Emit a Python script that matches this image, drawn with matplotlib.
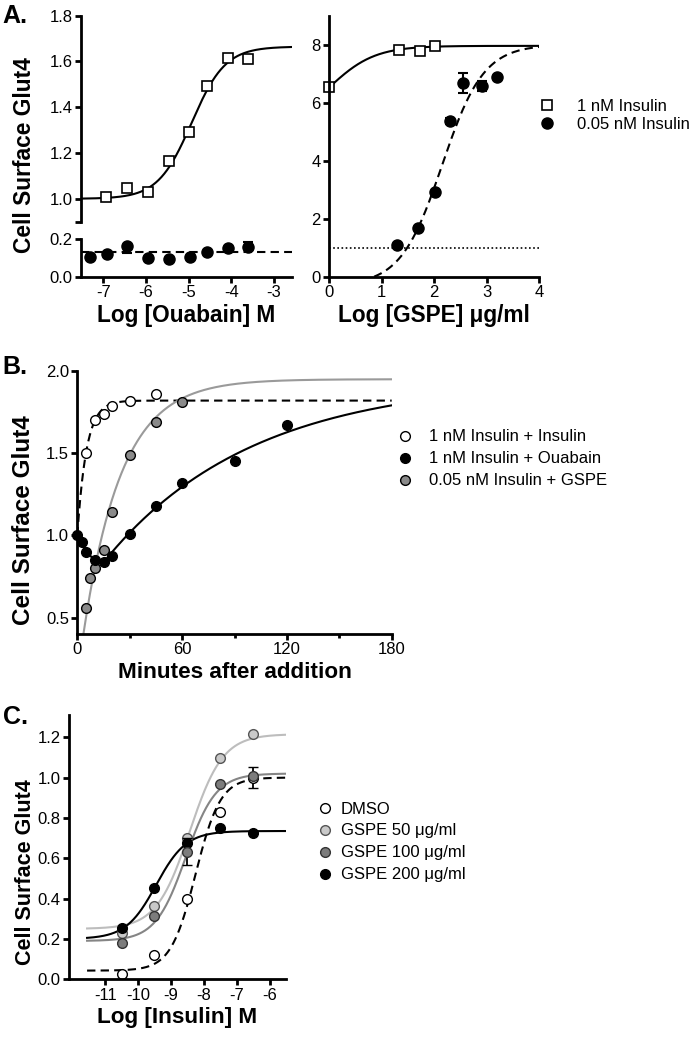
import numpy as np
import matplotlib.pyplot as plt
from matplotlib.lines import Line2D

plt.rcParams['font.family'] = ['Liberation Sans', 'DejaVu Sans']
plt.rcParams['axes.unicode_minus'] = False

W, H = 693, 1038

# ---- Panel A, ouabain dose response ----
ouab_x = [-6.93, -6.44, -5.94, -5.45, -4.98, -4.56, -4.08, -3.60]
ouab_1nM = [1.007, 1.046, 1.03, 1.167, 1.293, 1.495, 1.616, 1.612]
ouab_lo_x = [-7.32, -6.91, -6.44, -5.94, -5.45, -4.96, -4.56, -4.07, -3.60]
ouab_005nM = [0.108, 0.12, 0.165, 0.099, 0.096, 0.104, 0.131, 0.155, 0.158]
ouab_005nM_dn = [0, 0, 0.04, 0, 0, 0, 0, 0, 0]
ouab_005nM_up = [0, 0, 0.005, 0, 0, 0, 0, 0, 0.03]
ouab_fit_1nM = (1.0, 1.665, -4.93, 1.1)   # bottom, top, logEC50, hill
ouab_fit_005nM = 0.131

# ---- Panel A, GSPE dose response ----
gspe_x_1nM = [0.0, 1.32, 1.72, 2.02]
gspe_1nM = [6.55, 7.81, 7.79, 7.97]
gspe_x_005nM = [1.30, 1.70, 2.02, 2.30, 2.55, 2.90, 3.20]
gspe_005nM = [1.09, 1.68, 2.92, 5.38, 6.67, 6.59, 6.90]
gspe_005nM_err = [0, 0, 0, 0.1, 0.35, 0.17, 0]
gspe_fit_1nM = (5.1, 7.96, 0.0, 1.0)
gspe_fit_005nM = (-0.3, 8.0, 2.15, 1.1)
gspe_baseline = 1.0

# ---- Panel B, time course ----
t_ins = [5, 10, 15, 20, 30, 45]
y_ins = [1.5, 1.70, 1.74, 1.79, 1.82, 1.86]
t_ouab = [0, 2.5, 5, 10, 15, 20, 30, 45, 60, 90, 120]
y_ouab = [1.0, 0.96, 0.90, 0.85, 0.836, 0.876, 1.01, 1.18, 1.32, 1.45, 1.67]
t_gspe = [5, 7.5, 10, 15, 20, 30, 45, 60]
y_gspe = [0.56, 0.74, 0.80, 0.91, 1.14, 1.49, 1.69, 1.81]
fit_ins = (1.0, 1.82, 0.19)          # start, plateau, k
fit_ouab = (15, 0.836, 1.95, 0.0118)  # t0, start, plateau, k
fit_gspe = (1.95, 1.82, 0.0458)       # plateau, span, k

# ---- Panel C, insulin dose response ----
ins_x = [-10.5, -9.5, -8.5, -7.5, -6.5]
dmso = [0.027, 0.12, 0.40, 0.83, 1.0]
g50 = [0.23, 0.365, 0.70, 1.096, 1.217]
g100 = [0.179, 0.315, 0.633, 0.97, 1.01]
g200 = [0.253, 0.451, 0.675, 0.748, 0.724]
dmso_err = [0, 0, 0, 0, 0.05]
g100_err = [0, 0, 0.065, 0, 0]
fit_dmso = (0.043, 1.0, -8.25, 1.15)
fit_g50 = (0.25, 1.215, -8.43, 0.86)
fit_g100 = (0.19, 1.02, -8.55, 0.95)
fit_g200 = (0.2, 0.735, -9.45, 0.95)

LIGHT = '#c9c9c9'
MID = '#7c7c7c'
BGRAY = '#8a8a8a'


def hill(x, bottom, top, ec, h):
    return bottom + (top - bottom) / (1 + 10 ** ((ec - x) * h))


def ax_at(l, t, r, b):
    return fig.add_axes([l / W, 1 - b / H, (r - l) / W, (b - t) / H])


def style(ax, fs=12):
    for s in ['top', 'right']:
        ax.spines[s].set_visible(False)
    for s in ['left', 'bottom']:
        ax.spines[s].set_linewidth(2.0)
    ax.tick_params(width=2.0, length=4.5, labelsize=fs, pad=1.5)
    ax.tick_params(which='minor', width=2.0, length=3)


fig = plt.figure(figsize=(W / 100, H / 100), dpi=100)

# ===== A left (broken axis) =====
axt = ax_at(81, 15.7, 292, 221.7)
axb = ax_at(81, 239.3, 292, 276.7)
for ax in (axt, axb):
    style(ax)
    ax.set_xlim(-7.52, -2.58)
axt.spines['bottom'].set_visible(False)
axt.tick_params(axis='x', bottom=False, labelbottom=False)
axt.set_ylim(0.9, 1.8)
axt.set_yticks([0.9, 1.0, 1.2, 1.4, 1.6, 1.8])
axt.set_yticklabels(['', '1.0', '1.2', '1.4', '1.6', '1.8'])
axb.set_ylim(0, 0.2)
axb.set_yticks([0.0, 0.2])
axb.set_yticklabels(['0.0', '0.2'])
axb.set_xticks([-7, -6, -5, -4, -3])
axb.set_xticklabels(['-7', '-6', '-5', '-4', '-3'])

xx = np.linspace(-7.52, -2.58, 300)
axt.plot(xx, hill(xx, *ouab_fit_1nM), color='k', lw=1.5)
axt.plot(ouab_x, ouab_1nM, ls='none', marker='s', ms=7.5, mfc='white', mec='k', mew=1.2, clip_on=False)
axb.plot([-7.52, -2.58], [ouab_fit_005nM] * 2, color='k', lw=1.5, ls=(0, (4, 2.5)))
axb.errorbar(ouab_lo_x, ouab_005nM, yerr=[ouab_005nM_dn, ouab_005nM_up], fmt='o', ms=8, mfc='k', mec='k',
             ecolor='k', elinewidth=1.5, capsize=3.5, capthick=1.5, clip_on=False)
axb.set_xlabel('Log [Ouabain] M', fontsize=16.3, fontweight='bold', labelpad=3)

# ===== A right =====
axr = ax_at(329.2, 15.7, 539.3, 276.7)
style(axr)
axr.set_xlim(0, 4)
axr.set_ylim(0, 9)
axr.set_xticks([0, 1, 2, 3, 4])
axr.set_yticks([0, 2, 4, 6, 8])
xr = np.linspace(0, 4, 300)
axr.plot(xr, hill(xr, *gspe_fit_1nM), color='k', lw=1.5)
yd = hill(xr, *gspe_fit_005nM)
axr.plot(xr[yd >= 0], yd[yd >= 0], color='k', lw=1.5, ls=(0, (4, 2.5)))
axr.plot([0, 4], [gspe_baseline] * 2, color='k', lw=1.2, ls=(0, (1, 1.5)))
axr.plot(gspe_x_1nM, gspe_1nM, ls='none', marker='s', ms=7.5, mfc='white', mec='k', mew=1.2,
         clip_on=False, label='1 nM Insulin')
axr.errorbar(gspe_x_005nM, gspe_005nM, yerr=gspe_005nM_err, fmt='o', ms=8, mfc='k', mec='k',
             ecolor='k', elinewidth=1.5, capsize=3.5, capthick=1.5, label='0.05 nM Insulin')
axr.set_xlabel('Log [GSPE] μg/ml', fontsize=16.3, fontweight='bold', labelpad=3)
hA = [Line2D([], [], ls='none', marker='s', ms=7.5, mfc='white', mec='k', mew=1.2),
      Line2D([], [], ls='none', marker='o', ms=8, mfc='k', mec='k')]
fig.legend(hA, ['1 nM Insulin', '0.05 nM Insulin'], loc='upper left',
           bbox_to_anchor=(538.4 / W, 1 - 99 / H), frameon=False, fontsize=12,
           handlelength=1.0, handletextpad=1.3, labelspacing=0.18, borderpad=0, borderaxespad=0)

# ===== B =====
axB = ax_at(77.3, 371, 391.7, 634)
style(axB)
axB.set_xlim(0, 180)
axB.set_ylim(0.4, 2.0)
axB.set_xticks([0, 60, 120, 180])
axB.set_xticks([30, 90, 150], minor=True)
axB.set_yticks([0.5, 1.0, 1.5, 2.0])
tt = np.linspace(0, 180, 400)
y0, p, k = fit_ins
axB.plot(tt, y0 + (p - y0) * (1 - np.exp(-k * tt)), color='k', lw=1.5, ls=(0, (4, 2.5)))
t0, s0, p2, k2 = fit_ouab
axB.plot(t_ouab[:5], y_ouab[:5], color='k', lw=1.5)
to = np.linspace(t0, 180, 300)
axB.plot(to, s0 + (p2 - s0) * (1 - np.exp(-k2 * (to - t0))), color='k', lw=1.5)
p3, a3, k3 = fit_gspe
axB.plot(tt, p3 - a3 * np.exp(-k3 * tt), color='#9a9a9a', lw=1.5)
axB.plot(t_ins, y_ins, ls='none', marker='o', ms=7, mfc='white', mec='k', mew=1.0, clip_on=False)
axB.plot(t_gspe, y_gspe, ls='none', marker='o', ms=7, mfc=BGRAY, mec='k', mew=1.0, clip_on=False)
axB.plot(t_ouab, y_ouab, ls='none', marker='o', ms=7, mfc='k', mec='k', mew=1.0, clip_on=False)
axB.set_xlabel('Minutes after addition', fontsize=16.2, fontweight='bold', labelpad=3)
hB = [Line2D([], [], ls='none', marker='o', ms=7, mfc=c, mec='k', mew=1.0) for c in ('white', 'k', BGRAY)]
fig.legend(hB, ['1 nM Insulin + Insulin', '1 nM Insulin + Ouabain', '0.05 nM Insulin + GSPE'],
           loc='upper left', bbox_to_anchor=(396.7 / W, 1 - 429.5 / H), frameon=False, fontsize=12,
           handlelength=1.0, handletextpad=0.96, labelspacing=0.42, borderpad=0, borderaxespad=0)

# ===== C =====
axC = ax_at(69, 715, 286, 979.3)
style(axC)
axC.set_xlim(-12.1, -5.5)
axC.set_ylim(0, 1.31)
axC.set_xticks([-11, -10, -9, -8, -7, -6])
axC.set_yticks([0.0, 0.2, 0.4, 0.6, 0.8, 1.0, 1.2])
xc = np.linspace(-11.55, -5.5, 300)
axC.plot(xc, hill(xc, *fit_g50), color='#bdbdbd', lw=1.5)
axC.plot(xc, hill(xc, *fit_g100), color='#858585', lw=1.5)
axC.plot(xc, hill(xc, *fit_dmso), color='k', lw=1.5, ls=(0, (4, 2.5)))
axC.plot(xc, hill(xc, *fit_g200), color='k', lw=1.5)
axC.errorbar(ins_x, dmso, yerr=dmso_err, fmt='o', ms=7, mfc='white', mec='k', mew=1.0,
             ecolor='k', elinewidth=1.3, capsize=3.5, capthick=1.3, clip_on=False)
axC.plot(ins_x, g50, ls='none', marker='o', ms=7, mfc=LIGHT, mec='#555555', mew=1.0, clip_on=False)
axC.errorbar(ins_x, g100, yerr=g100_err, fmt='o', ms=7, mfc=MID, mec='#333333', mew=1.0,
             ecolor='k', elinewidth=1.3, capsize=3.5, capthick=1.3, clip_on=False)
axC.plot(ins_x, g200, ls='none', marker='o', ms=7, mfc='k', mec='k', mew=1.0, clip_on=False)
axC.set_xlabel('Log [Insulin] M', fontsize=16.2, fontweight='bold', labelpad=3)
hC = [Line2D([], [], ls='none', marker='o', ms=7, mfc=c, mec=e, mew=1.0)
      for c, e in (('white', 'k'), (LIGHT, '#555555'), (MID, '#333333'), ('k', 'k'))]
fig.legend(hC, ['DMSO', 'GSPE 50 μg/ml', 'GSPE 100 μg/ml', 'GSPE 200 μg/ml'],
           loc='upper left', bbox_to_anchor=(316.7 / W, 1 - 801.5 / H), frameon=False, fontsize=12,
           handlelength=1.0, handletextpad=0.46, labelspacing=0.42, borderpad=0, borderaxespad=0)

# y labels and panel letters
fig.text(25 / W, 1 - 155 / H, 'Cell Surface Glut4', rotation=90, ha='center', va='center',
         fontsize=16.4, fontweight='bold')
fig.text(24 / W, 1 - 520 / H, 'Cell Surface Glut4', rotation=90, ha='center', va='center',
         fontsize=17.5, fontweight='bold')
fig.text(26 / W, 1 - 872 / H, 'Cell Surface Glut4', rotation=90, ha='center', va='center',
         fontsize=15.5, fontweight='bold')
fig.text(2 / W, 1 - 4 / H, 'A.', ha='left', va='top', fontsize=18, fontweight='bold')
fig.text(2 / W, 1 - 355 / H, 'B.', ha='left', va='top', fontsize=18, fontweight='bold')
fig.text(3 / W, 1 - 705 / H, 'C.', ha='left', va='top', fontsize=18, fontweight='bold')

fig.savefig('out.png', dpi=100)
